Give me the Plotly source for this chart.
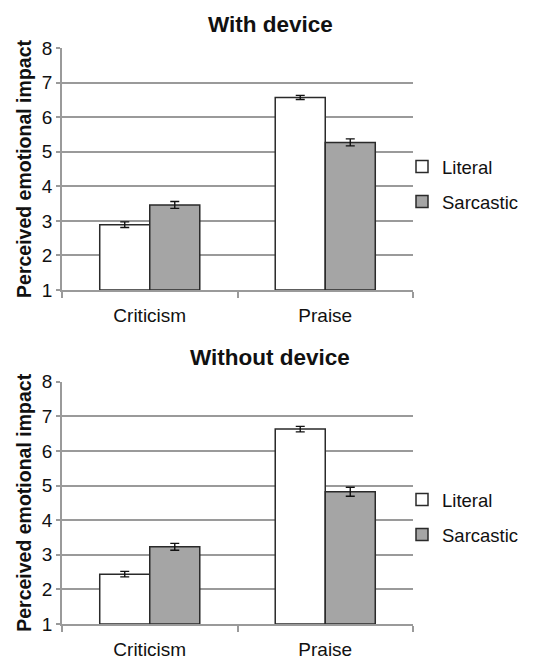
import plotly.graph_objects as go

categories = ["Criticism", "Praise"]
series_names = ["Literal", "Sarcastic"]

with_literal = [2.89, 6.57]
with_literal_err = [0.08, 0.06]
with_sarcastic = [3.46, 5.27]
with_sarcastic_err = [0.10, 0.10]

without_literal = [2.44, 6.63]
without_literal_err = [0.08, 0.08]
without_sarcastic = [3.23, 4.82]
without_sarcastic_err = [0.10, 0.13]

panel_titles = ["With device", "Without device"]
y_ticks = [1, 2, 3, 4, 5, 6, 7, 8]

FONT = "Arial, Liberation Sans, sans-serif"
OFF = 8  # default page margin of the browser
W, H = 543 - OFF, 659 - OFF
fill = {"Literal": "#FFFFFF", "Sarcastic": "#A5A5A5"}


def px(p):
    return (p - OFF) / W


def py(p):
    return 1 - (p - OFF) / H


fig = go.Figure()

panels = [
    (with_literal, with_literal_err, with_sarcastic, with_sarcastic_err),
    (without_literal, without_literal_err, without_sarcastic, without_sarcastic_err),
]

# pixel layout (in screenshot coordinates)
x0, x1 = 62, 413
ydoms_px = [(48, 290), (381.7, 624)]
legend_centers = [184.5, 517.5]

for i, (lv, le, sv, se) in enumerate(panels):
    xa = "x" if i == 0 else "x2"
    ya = "y" if i == 0 else "y2"
    lg = "legend" if i == 0 else "legend2"
    for name, vals, errs in [("Literal", lv, le), ("Sarcastic", sv, se)]:
        fig.add_trace(go.Bar(
            x=categories, y=[v - 1 for v in vals], base=1, name=name,
            xaxis=xa, yaxis=ya, legend=lg, legendgroup=name + str(i),
            marker=dict(color=fill[name], line=dict(color="#2a2a2a", width=1.5)),
            error_y=dict(type="data", array=errs, visible=True, color="#111111",
                         thickness=1.4, width=4.5),
        ))

layout = dict(
    width=W, height=H, margin=dict(l=0, r=0, t=0, b=0),
    paper_bgcolor="white", plot_bgcolor="white",
    barmode="group", bargap=0.43, bargroupgap=0,
    font=dict(family=FONT, size=19, color="#111111"),
    showlegend=True,
)

for i in range(2):
    sfx = "" if i == 0 else "2"
    top, bot = ydoms_px[i]
    layout["xaxis" + sfx] = dict(
        domain=[px(x0), px(x1)], anchor="y" + sfx, automargin=False,
        showline=True, linecolor="#9a9a9a", linewidth=1.5,
        ticks="outside", tickson="boundaries", ticklen=6, tickcolor="#9a9a9a", tickwidth=1.5,
        ticklabelstandoff=7,
        tickfont=dict(family=FONT, size=19, color="#111111"),
        showgrid=False, fixedrange=True,
    )
    layout["yaxis" + sfx] = dict(
        domain=[py(bot), py(top)], anchor="x" + sfx, automargin=False,
        range=[1, 8], tickvals=y_ticks,
        showline=True, linecolor="#9a9a9a", linewidth=1.5,
        ticks="outside", ticklen=4, tickcolor="#9a9a9a", tickwidth=1.5,
        showgrid=True, gridcolor="#9a9a9a", gridwidth=1.5,
        zeroline=False,
        tickfont=dict(family=FONT, size=19, color="#111111"),
        title=dict(text="<b>Perceived emotional impact</b>",
                   font=dict(family=FONT, size=19.5, color="#111111"), standoff=5),
    )
    legname = "legend" if i == 0 else "legend2"
    layout[legname] = dict(
        x=px(402), xanchor="left",
        y=py(legend_centers[i]), yanchor="middle",
        font=dict(family=FONT, size=18.5, color="#111111"),
        bgcolor="rgba(0,0,0,0)", tracegroupgap=8, itemwidth=30,
    )

fig.update_layout(**layout)

for i, t in enumerate(panel_titles):
    top = ydoms_px[i][0]
    fig.add_annotation(
        text="<b>" + t + "</b>", xref="paper", yref="paper",
        x=px(270), y=py(top - 24), xanchor="center", yanchor="middle",
        showarrow=False, font=dict(family=FONT, size=22.5, color="#111111"),
    )

fig.write_html("out.html")
